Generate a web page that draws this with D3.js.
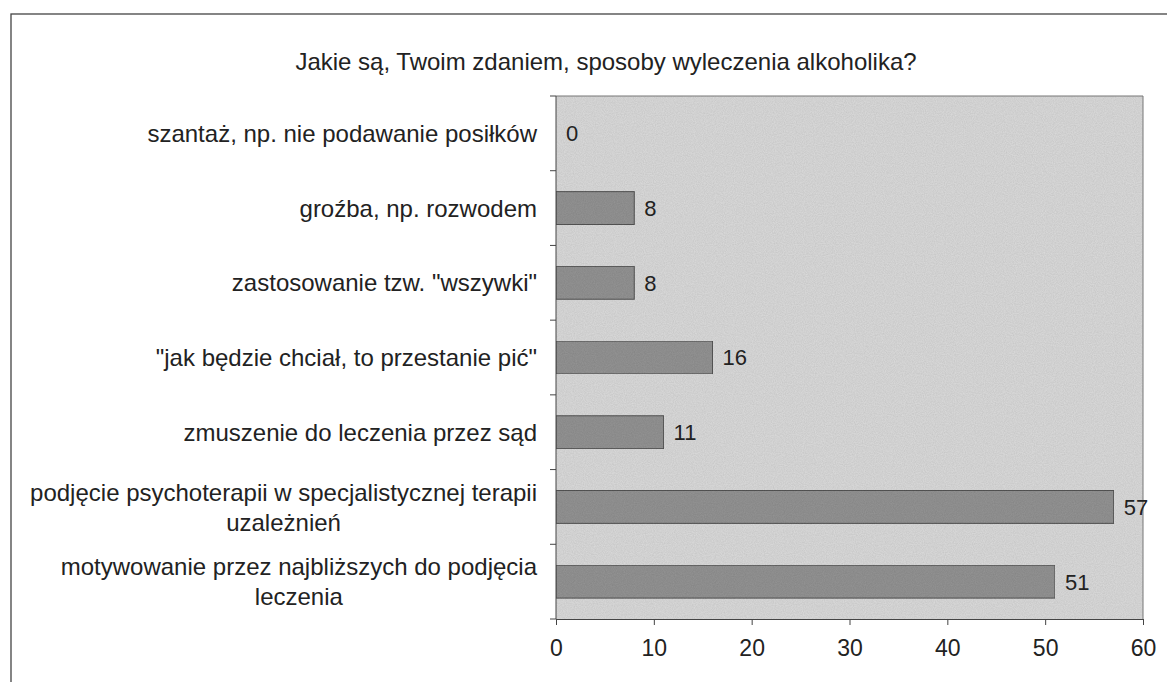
<!DOCTYPE html>
<html>
<head>
<meta charset="utf-8">
<script src="https://cdn.jsdelivr.net/npm/d3@7"></script>
<style>
  body { margin: 0; background: #fff; }
  text { font-family: "Liberation Sans", Arial, sans-serif; fill: #222; }
</style>
</head>
<body>
<div id="chart"></div>
<script>
/* DATA */
const TITLE = "Jakie są, Twoim zdaniem, sposoby wyleczenia alkoholika?";
const categories = [
  ["szantaż, np. nie podawanie posiłków"],
  ["groźba, np. rozwodem"],
  ["zastosowanie tzw. \"wszywki\""],
  ["\"jak będzie chciał, to przestanie pić\""],
  ["zmuszenie do leczenia przez sąd"],
  ["podjęcie psychoterapii w specjalistycznej terapii", "uzależnień"],
  ["motywowanie przez najbliższych do podjęcia", "leczenia"]
];
const values = [0, 8, 8, 16, 11, 57, 51];
const xTicks = [0, 10, 20, 30, 40, 50, 60];

/* LAYOUT */
const W = 1167, H = 682;
const plot = { left: 556, top: 96, right: 1143, bottom: 619 };
const labelRight = 537;

const svg = d3.select("#chart").append("svg")
  .attr("width", W).attr("height", H);

// scan-like grain
const defs = svg.append("defs");
const f = defs.append("filter").attr("id", "grain").attr("x", 0).attr("y", 0)
  .attr("width", "100%").attr("height", "100%");
f.append("feTurbulence").attr("type", "fractalNoise").attr("baseFrequency", 0.9)
  .attr("numOctaves", 2).attr("seed", 3).attr("result", "noise");
f.append("feColorMatrix").attr("in", "noise").attr("type", "matrix")
  .attr("values", "0 0 0 0 0  0 0 0 0 0  0 0 0 0 0  0 0 0 0.22 0")
  .attr("result", "dots");
f.append("feComposite").attr("in", "dots").attr("in2", "SourceGraphic")
  .attr("operator", "in").attr("result", "masked");
const fm = f.append("feMerge");
fm.append("feMergeNode").attr("in", "SourceGraphic");
fm.append("feMergeNode").attr("in", "masked");

// outer frame
svg.append("rect")
  .attr("x", 11).attr("y", 14).attr("width", W + 20).attr("height", H + 20)
  .attr("fill", "none").attr("stroke", "#444").attr("stroke-width", 1.3);

// title
svg.append("text")
  .attr("x", 606).attr("y", 70)
  .attr("text-anchor", "middle")
  .style("font-size", "24px")
  .text(TITLE);

/* SCALES */
const x = d3.scaleLinear().domain([0, 60]).range([plot.left, plot.right]);
const y = d3.scaleBand().domain(d3.range(categories.length))
  .range([plot.top, plot.bottom]).paddingInner(0.56).paddingOuter(0.28);
const yStep = d3.scaleLinear().domain([0, categories.length]).range([plot.top, plot.bottom]);

// plot background
svg.append("rect")
  .attr("x", plot.left).attr("y", plot.top)
  .attr("width", plot.right - plot.left).attr("height", plot.bottom - plot.top)
  .attr("fill", "#dcdcdc").attr("filter", "url(#grain)");
svg.append("path")
  .attr("d", `M${plot.left},${plot.top}H${plot.right}V${plot.bottom}`)
  .attr("fill", "none").attr("stroke", "#777").attr("stroke-width", 1);

// bars
svg.append("g").selectAll("rect")
  .data(values)
  .enter()
  .append("rect")
  .attr("x", x(0))
  .attr("y", (d, i) => y(i))
  .attr("width", (d) => x(d) - x(0))
  .attr("height", y.bandwidth())
  .attr("fill", "#949494")
  .attr("stroke", "#555")
  .attr("stroke-width", 1)
  .attr("filter", "url(#grain)");

// value labels
svg.append("g").selectAll("text")
  .data(values)
  .enter()
  .append("text")
  .attr("x", (d) => x(d) + 10)
  .attr("y", (d, i) => y(i) + y.bandwidth() / 2)
  .attr("dy", "0.36em")
  .style("font-size", "22px")
  .text((d) => d);

// x axis
const xAxis = svg.append("g")
  .attr("transform", `translate(0,${plot.bottom})`)
  .call(d3.axisBottom(x).tickValues(xTicks).tickSize(6).tickPadding(15));
xAxis.selectAll("text").style("font-size", "23px").attr("fill", "#222");
xAxis.selectAll("line, path").attr("stroke", "#444");

// y axis: ticks at band boundaries
const yAxis = svg.append("g");
yAxis.append("line")
  .attr("x1", plot.left).attr("x2", plot.left)
  .attr("y1", plot.top).attr("y2", plot.bottom)
  .attr("stroke", "#444");
yAxis.selectAll(".tk")
  .data(d3.range(categories.length + 1))
  .enter()
  .append("line")
  .attr("class", "tk")
  .attr("x1", plot.left - 6).attr("x2", plot.left)
  .attr("y1", (d) => yStep(d)).attr("y2", (d) => yStep(d))
  .attr("stroke", "#444");

// category labels (multi-line blocks right aligned, lines centred)
const labels = svg.append("g");
categories.forEach((lines, i) => {
  const cy = y(i) + y.bandwidth() / 2;
  const lh = 30;
  const t = labels.append("text")
    .style("font-size", "24px")
    .attr("text-anchor", "end");
  lines.forEach((ln, j) => {
    t.append("tspan")
      .attr("x", labelRight)
      .attr("y", cy + (j - (lines.length - 1) / 2) * lh)
      .attr("dy", "0.36em")
      .text(ln);
  });
  if (lines.length > 1) {
    // centre the shorter lines under the longest one
    const widths = t.selectAll("tspan").nodes().map((n) => n.getComputedTextLength());
    const maxW = d3.max(widths);
    t.attr("text-anchor", "middle");
    t.selectAll("tspan").attr("x", labelRight - maxW / 2);
  }
});
</script>
</body>
</html>
